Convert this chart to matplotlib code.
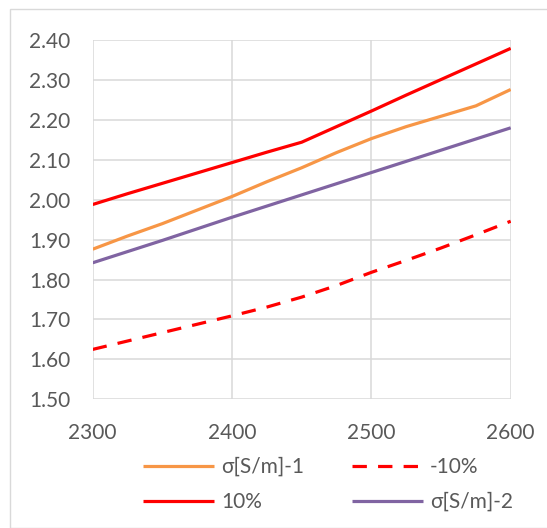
import matplotlib
matplotlib.use("Agg")
import matplotlib.pyplot as plt
from matplotlib.patches import Rectangle

freq = [2300, 2325, 2350, 2375, 2400, 2425, 2450, 2475, 2500, 2525, 2550, 2575, 2600]
sigma1 = [1.876, 1.909, 1.940, 1.974, 2.008, 2.045, 2.080, 2.118, 2.153, 2.183, 2.209, 2.235, 2.276]
minus10 = [1.625, 1.646, 1.667, 1.688, 1.709, 1.731, 1.756, 1.785, 1.818, 1.848, 1.879, 1.912, 1.946]
plus10 = [1.988, 2.015, 2.041, 2.067, 2.093, 2.119, 2.144, 2.183, 2.222, 2.262, 2.301, 2.340, 2.379]
sigma2 = [1.842, 1.870, 1.898, 1.927, 1.956, 1.984, 2.012, 2.040, 2.068, 2.096, 2.124, 2.152, 2.180]

labels = ["σ[S/m]-1", "-10%", "10%", "σ[S/m]-2"]
xticks = [2300, 2400, 2500, 2600]
yticks = [1.50, 1.60, 1.70, 1.80, 1.90, 2.00, 2.10, 2.20, 2.30, 2.40]

plt.rcParams['font.family'] = ['Lato', 'DejaVu Sans']

W, H = 547, 528
fig = plt.figure(figsize=(W / 100, H / 100), dpi=100)
fig.patches.append(Rectangle((10 / W, 0), 2, 1 - 9 / H, transform=fig.transFigure,
                             fill=False, edgecolor='#D9D9D9', linewidth=1.0))

ax = fig.add_axes([92.7 / W, 1 - 399.3 / H, (510.7 - 92.7) / W, (399.3 - 40) / H])
lw = 2.3
l1, = ax.plot(freq, sigma1, color='#F79646', lw=lw, label=labels[0], solid_capstyle='butt')
l2, = ax.plot(freq, minus10, color='#FF0000', lw=lw, label=labels[1], linestyle=(0, (4.5, 3.5)),
              dash_capstyle='butt')
l3, = ax.plot(freq, plus10, color='#FF0000', lw=lw, label=labels[2], solid_capstyle='butt')
l4, = ax.plot(freq, sigma2, color='#8064A2', lw=lw, label=labels[3], solid_capstyle='butt')

ax.set_xlim(2300, 2600)
ax.set_ylim(1.50, 2.40)
ax.set_xticks(xticks)
ax.set_yticks(yticks)
ax.set_yticklabels([f"{v:.2f}" for v in yticks])
ax.grid(True, color='#D9D9D9', lw=1.1)
ax.set_axisbelow(True)
for s in ax.spines.values():
    s.set_visible(False)
ax.tick_params(length=0, labelsize=15, colors='#595959')
ax.tick_params(axis='y', pad=16)
ax.tick_params(axis='x', pad=17)

# column-wise fill: col 1 = sigma1, 10%; col 2 = -10%, sigma2
order = [l1, l3, l2, l4]
leg = fig.legend(handles=order, labels=[h.get_label() for h in order], ncol=2, loc='upper left',
                 bbox_to_anchor=(143 / W, 1 - 457 / H), frameon=False, fontsize=15,
                 handlelength=3.4, handletextpad=0.35, columnspacing=2.3,
                 labelspacing=0.72, borderpad=0, borderaxespad=0, labelcolor='#595959')

fig.savefig("out.png", dpi=100)
